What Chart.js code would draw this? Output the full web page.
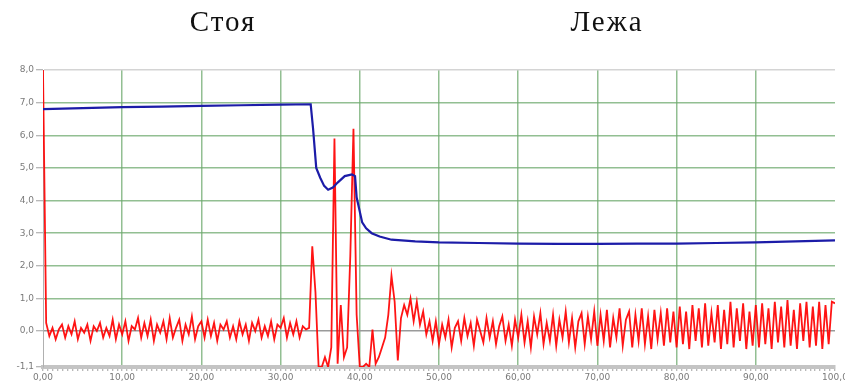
<!DOCTYPE html>
<html>
<head>
<meta charset="utf-8">
<script src="https://cdn.jsdelivr.net/npm/chart.js@4/dist/chart.umd.min.js"></script>
<style>
  html, body { margin: 0; padding: 0; background: #fff; }
  #wrap { position: relative; width: 845px; height: 385px; overflow: hidden; }
  canvas { position: absolute; left: 0; top: 0; }
  .ttl { position: absolute; top: 5px; font-family: "Liberation Serif", "DejaVu Serif", serif; font-size: 29px; letter-spacing: 2px; color: #111; transform: translateX(-50%); white-space: nowrap; }
</style>
</head>
<body>
<div id="wrap">
  <canvas id="c" width="845" height="385"></canvas>
  <div class="ttl" id="t0" style="left:223px"></div>
  <div class="ttl" id="t1" style="left:607px"></div>
</div>
<script>
// ---- data ----
const sectionTitles = ["Стоя", "Лежа"];
const xTickValues = [0, 10, 20, 30, 40, 50, 60, 70, 80, 90, 100];
const xTickLabels = ["0,00", "10,00", "20,00", "30,00", "40,00", "50,00", "60,00", "70,00", "80,00", "90,00", "100,0"];
const yTickValues = [-1.1, 0, 1, 2, 3, 4, 5, 6, 7, 8];
const yTickLabels = ["-1,1", "0,0", "1,0", "2,0", "3,0", "4,0", "5,0", "6,0", "7,0", "8,0"];

// blue series (x, y)
const blueX = [0, 5, 10, 15, 20, 25, 30, 33.8, 34.1, 34.5, 35.0, 35.5, 36.0, 36.6, 37.2, 38.1, 39.0, 39.4, 39.6, 40.3, 40.8, 41.5, 42.5, 44, 47, 50, 55, 60, 65, 70, 75, 80, 85, 90, 95, 100];
const blueY = [6.8, 6.83, 6.86, 6.88, 6.9, 6.92, 6.94, 6.95, 6.2, 5.0, 4.7, 4.45, 4.33, 4.4, 4.55, 4.75, 4.8, 4.75, 4.1, 3.33, 3.15, 3.0, 2.9, 2.8, 2.75, 2.72, 2.7, 2.68, 2.67, 2.67, 2.68, 2.68, 2.7, 2.72, 2.75, 2.78];

// red series, sampled every 0.4 from 0 to 100
const redStep = 0.4;
const redY = [
  8.0,
  0.25,-0.15,0.1,-0.25,0.05,0.2,-0.2,0.15,-0.1,0.3,-0.25,0.1,-0.05,0.2,-0.3,0.15,0.0,0.25,-0.2,0.1,
  -0.15,0.35,-0.25,0.2,-0.1,0.3,-0.3,0.15,0.05,0.4,-0.2,0.25,-0.15,0.35,-0.3,0.2,-0.05,0.3,-0.25,0.4,
  -0.2,0.1,0.35,-0.3,0.2,-0.1,0.45,-0.25,0.15,0.3,-0.2,0.35,-0.15,0.25,-0.3,0.2,0.05,0.3,-0.2,0.15,
  -0.25,0.3,-0.1,0.2,-0.3,0.25,0.0,0.35,-0.2,0.15,-0.15,0.3,-0.25,0.2,0.1,0.4,-0.2,0.25,-0.1,0.3,
  -0.2,0.15,0.05,0.1,
  2.6,1.2,-1.1,-1.1,-0.8,-1.1,-0.5,5.9,-1.0,0.8,-0.8,-0.5,2.3,6.2,0.5,-1.1,-1.1,-1.0,-1.1,0.05,
  -1.0,-0.8,-0.5,-0.2,0.5,1.7,0.9,-0.9,0.4,0.8,0.5,1.0,0.3,0.9,0.2,0.6,-0.1,0.3,-0.3,
  0.3,-0.4,0.2,-0.2,0.35,-0.5,0.1,0.3,-0.3,0.4,-0.15,0.25,-0.45,0.35,0.0,-0.35,0.4,-0.2,0.3,-0.4,0.15,0.45,-0.3,0.2,-0.45,0.35,
  -0.2,0.5,-0.35,0.3,-0.5,0.45,-0.1,0.55,-0.4,0.25,-0.3,0.5,-0.45,0.35,-0.2,0.6,-0.35,0.4,-0.5,0.3,0.55,-0.4,0.45,-0.25,0.6,-0.45,
  0.5,-0.3,0.65,-0.5,0.4,-0.2,0.7,-0.45,0.35,0.6,-0.5,0.5,-0.3,0.7,-0.4,0.45,-0.55,0.65,-0.25,0.55,-0.45,0.7,-0.35,0.6,-0.5,
  0.75,-0.4,0.6,-0.55,0.8,-0.3,0.7,-0.5,0.85,-0.45,0.55,-0.35,0.8,-0.55,0.65,-0.4,0.9,-0.5,0.7,-0.3,0.85,-0.55,0.6,-0.45,0.8,
  -0.5,0.85,-0.4,0.7,-0.55,0.9,-0.35,0.75,-0.5,0.95,-0.45,0.65,-0.55,0.85,-0.3,0.9,-0.5,0.75,-0.45,0.9,-0.55,0.8,-0.4,0.9,0.85
];

// ---- build ----
document.getElementById('t0').textContent = sectionTitles[0];
document.getElementById('t1').textContent = sectionTitles[1];
const redPts = redY.map((v, i) => ({ x: +(i * redStep).toFixed(2), y: v }));
const bluePts = blueX.map((x, i) => ({ x: x, y: blueY[i] }));
const isMajorX = v => Math.abs(v / 10 - Math.round(v / 10)) < 1e-6;

new Chart(document.getElementById('c'), {
  type: 'line',
  data: {
    datasets: [
      { data: redPts, borderColor: 'rgba(255,0,0,0.92)', borderWidth: 1.8, pointRadius: 0, tension: 0, order: 2 },
      { data: bluePts, borderColor: '#1c1ca8', borderWidth: 2.2, pointRadius: 0, tension: 0, order: 1 }
    ]
  },
  options: {
    responsive: false,
    animation: false,
    events: [],
    layout: { padding: { left: 0, right: 10, top: 70, bottom: 0 } },
    plugins: { legend: { display: false }, tooltip: { enabled: false }, title: { display: false } },
    scales: {
      x: {
        type: 'linear', min: 0, max: 100,
        afterBuildTicks: s => {
          const t = [];
          for (let i = 0; i <= 160; i++) t.push({ value: i * 0.625 });
          s.ticks = t;
        },
        afterFit: s => { s.height = 18; s.paddingRight = 0; s.paddingLeft = 0; },
        border: { display: true, color: '#c4c4c4', width: 4 },
        grid: {
          color: ctx => isMajorX(ctx.tick.value) && ctx.tick.value > 0 && ctx.tick.value < 100 ? 'rgba(110,170,110,0.75)' : 'rgba(0,0,0,0)',
          lineWidth: 1.5,
          tickColor: '#a0a0a0',
          tickLength: 4,
          tickWidth: 1
        },
        ticks: {
          autoSkip: false, maxRotation: 0, padding: 1,
          font: { family: 'DejaVu Sans', size: 9 }, color: '#7a7a7a',
          callback: v => {
            if (!isMajorX(v)) return '';
            const idx = xTickValues.indexOf(Math.round(v));
            return idx >= 0 ? xTickLabels[idx] : '';
          }
        }
      },
      y: {
        type: 'linear', min: -1.1, max: 8,
        afterBuildTicks: s => { s.ticks = yTickValues.map(v => ({ value: v })); },
        afterFit: s => { s.width = 43; },
        border: { display: true, color: '#b0b0b0', width: 1 },
        grid: {
          color: ctx => {
            const v = ctx.tick.value;
            if (v === 8) return '#d4d4d4';
            if (v === 0) return '#9a9a9a';
            if (v === -1.1) return 'rgba(0,0,0,0)';
            return 'rgba(110,170,110,0.75)';
          },
          lineWidth: 1.5,
          tickColor: '#a0a0a0',
          tickLength: 7,
          tickWidth: 1
        },
        ticks: {
          padding: 2,
          font: { family: 'DejaVu Sans', size: 9 }, color: '#7a7a7a',
          callback: v => {
            const idx = yTickValues.indexOf(v);
            return idx >= 0 ? yTickLabels[idx] : '';
          }
        }
      }
    }
  }
});
</script>
</body>
</html>
